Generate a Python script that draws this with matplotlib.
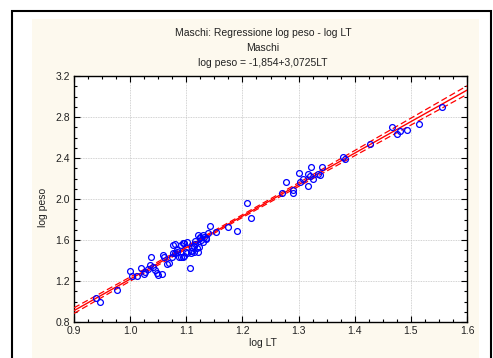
import numpy as np
import matplotlib
matplotlib.use("Agg")
import matplotlib.pyplot as plt
from matplotlib.ticker import MultipleLocator
from matplotlib.patches import Rectangle

plt.rcParams['font.family'] = ['Liberation Sans', 'DejaVu Sans']

# ---- data ----
log_lt = [0.939, 0.946, 0.977, 1.000, 1.003, 1.012, 1.020, 1.024, 1.026, 1.031,
          1.035, 1.038, 1.040, 1.044, 1.048, 1.050, 1.057, 1.059, 1.061, 1.066,
          1.070, 1.074, 1.077, 1.077, 1.080, 1.080, 1.083, 1.084, 1.087, 1.090,
          1.090, 1.094, 1.095, 1.096, 1.096, 1.100, 1.102, 1.102, 1.107, 1.108,
          1.108, 1.110, 1.113, 1.114, 1.116, 1.116, 1.119, 1.120, 1.121, 1.122,
          1.124, 1.124, 1.127, 1.129, 1.130, 1.132, 1.135, 1.135, 1.138, 1.142,
          1.153, 1.175, 1.190, 1.209, 1.215, 1.271, 1.278, 1.290, 1.290, 1.300,
          1.303, 1.308, 1.316, 1.317, 1.320, 1.323, 1.325, 1.335, 1.338, 1.341,
          1.380, 1.383, 1.427, 1.466, 1.476, 1.481, 1.494, 1.515, 1.556]
log_peso = [1.037, 0.992, 1.115, 1.301, 1.249, 1.249, 1.330, 1.268, 1.291, 1.314,
            1.356, 1.437, 1.340, 1.307, 1.281, 1.258, 1.268, 1.454, 1.431, 1.366,
            1.372, 1.437, 1.551, 1.476, 1.470, 1.558, 1.502, 1.486, 1.431, 1.551,
            1.431, 1.431, 1.567, 1.444, 1.574, 1.486, 1.584, 1.470, 1.330, 1.476,
            1.496, 1.528, 1.541, 1.483, 1.594, 1.561, 1.519, 1.480, 1.649, 1.528,
            1.616, 1.632, 1.600, 1.584, 1.649, 1.632, 1.616, 1.606, 1.665, 1.737,
            1.675, 1.730, 1.691, 1.964, 1.811, 2.060, 2.163, 2.090, 2.060, 2.250,
            2.170, 2.200, 2.127, 2.244, 2.220, 2.309, 2.200, 2.244, 2.230, 2.309,
            2.407, 2.387, 2.534, 2.700, 2.631, 2.666, 2.673, 2.729, 2.895]
intercept = -1.854
slope = 3.0725

title_lines = ["Maschi: Regressione log peso - log LT", "Maschi",
               "log peso = -1,854+3,0725LT"]
x_label = "log LT"
y_label = "log peso"
x_ticks = [0.9, 1.0, 1.1, 1.2, 1.3, 1.4, 1.5, 1.6]
y_ticks = [0.8, 1.2, 1.6, 2.0, 2.4, 2.8, 3.2]

# ---- figure ----
W, H = 493, 358
fig = plt.figure(figsize=(W / 100, H / 100), dpi=100)
fig.patch.set_facecolor('white')

# cream panel and black frame
fig.patches.append(Rectangle((32 / W, 0), (479 - 32) / W, (H - 19) / H,
                             transform=fig.transFigure, facecolor='#fdf9ee',
                             edgecolor='none', zorder=-3))
fig.patches.append(Rectangle((12 / W, -0.1), (491 - 12) / W, (H - 11) / H + 0.1,
                             transform=fig.transFigure, facecolor='none',
                             edgecolor='black', linewidth=1.5, zorder=-2))

ax_l, ax_r, ax_t, ax_b = 74, 467, 76, 322
ax = fig.add_axes([ax_l / W, 1 - ax_b / H, (ax_r - ax_l) / W, (ax_b - ax_t) / H])
ax.set_facecolor('white')
ax.set_zorder(2)

x = np.array(log_lt)
y = np.array(log_peso)
n = len(x)
xs = np.linspace(0.9, 1.6, 200)
yfit = intercept + slope * xs
resid = y - (intercept + slope * x)
s = np.sqrt(np.sum(resid ** 2) / (n - 2))
sxx = np.sum((x - x.mean()) ** 2)
se = s * np.sqrt(1 / n + (xs - x.mean()) ** 2 / sxx)
tval = 1.99
ax.plot(xs, yfit, color='red', lw=1.0, zorder=3)
ax.plot(xs, yfit + tval * se, color='red', lw=0.9, ls=(0, (5, 2.5)), zorder=3)
ax.plot(xs, yfit - tval * se, color='red', lw=0.9, ls=(0, (5, 2.5)), zorder=3)

ax.plot(x, y, 'o', mfc='none', mec='blue', ms=4.2, mew=0.9, zorder=4)

ax.set_xlim(0.9, 1.6)
ax.set_ylim(0.8, 3.2)
ax.set_xticks(x_ticks)
ax.set_yticks(y_ticks)
ax.set_xticklabels([f"{v:.1f}" for v in x_ticks])
ax.set_yticklabels([f"{v:.1f}" for v in y_ticks])
ax.xaxis.set_minor_locator(MultipleLocator(0.025))
ax.yaxis.set_minor_locator(MultipleLocator(0.1))
ax.tick_params(which='both', direction='in', top=True, right=True,
               labelsize=7.5, color='black', labelcolor='#222222', width=0.8, pad=3)
ax.tick_params(which='major', length=4)
ax.tick_params(which='minor', length=2.5)
ax.grid(True, which='major', color='#c4c4c4', ls=(0, (1, 1)), lw=0.6)
ax.set_axisbelow(True)
for sp in ax.spines.values():
    sp.set_linewidth(1.0)
    sp.set_color('black')

fig.text(43 / W, 1 - 207 / H, y_label, rotation=90, ha='center', va='center',
         fontsize=7.5, color='#222222')
fig.text(263 / W, 1 - 343 / H, x_label, ha='center', va='center',
         fontsize=7.5, color='#222222')
for t, yy in zip(title_lines, [33, 48, 63]):
    fig.text(263 / W, 1 - yy / H, t, ha='center', va='center',
             fontsize=7.5, color='#222222')

fig.savefig('out.png', dpi=100)
